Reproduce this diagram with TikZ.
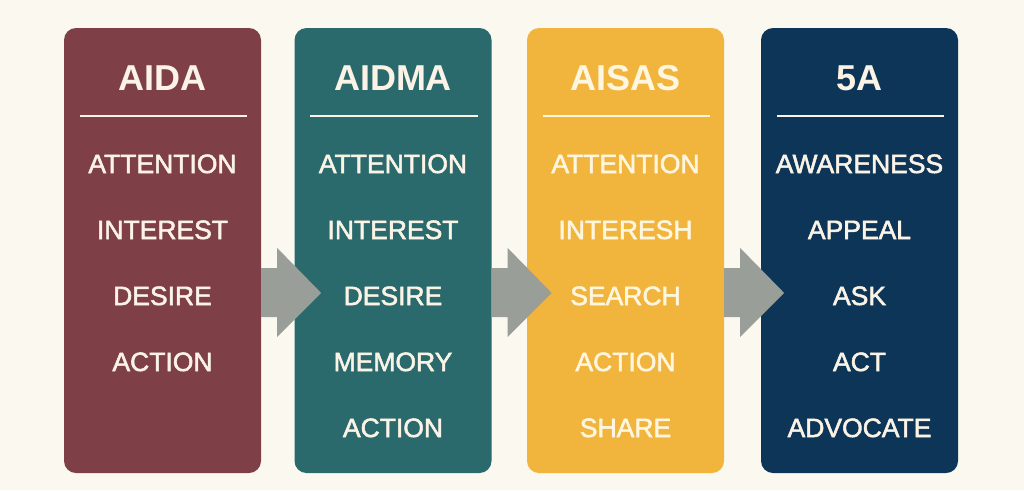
\documentclass[tikz,border=0pt]{standalone}
\usepackage{fontspec}
\setmainfont{Liberation Sans}
\newfontfamily\stagefont[FakeBold=2]{Liberation Sans}
\usetikzlibrary{calc}
\definecolor{bgcream}{HTML}{FBF8F0}
\definecolor{aidared}{HTML}{7E3F46}
\definecolor{aidmateal}{HTML}{2A6A6C}
\definecolor{aisasgold}{HTML}{F1B43D}
\definecolor{fivenavy}{HTML}{0D3557}
\definecolor{arrowgray}{HTML}{9A9E98}
\definecolor{labelcream}{HTML}{FAF3E6}
\definecolor{labellight}{HTML}{FFF6DF}
\tikzset{
panel/.style={rounded corners=12pt, minimum width=197pt, minimum height=445pt, inner sep=0pt},
paneltitle/.style={anchor=base, inner sep=0pt, font=\fontsize{36}{36}\selectfont\bfseries},
stage/.style={anchor=base, inner sep=0pt, font=\stagefont\fontsize{26.5}{27}\selectfont},
flowarrow/.style={fill=arrowgray},
}

\begin{document}
\begin{tikzpicture}[x=1pt, y=-1pt]
\fill[bgcream] (0,0) rectangle (1024,490);
\useasboundingbox (0,0) rectangle (1024,490);
\foreach \name/\x/\col/\txt/\head/\list in {
p1/162.5/aidared/labelcream/AIDA/{ATTENTION,INTEREST,DESIRE,ACTION},
p2/393/aidmateal/labelcream/AIDMA/{ATTENTION,INTEREST,DESIRE,MEMORY,ACTION},
p3/625.5/aisasgold/labellight/AISAS/{ATTENTION,INTERESH,SEARCH,ACTION,SHARE},
p4/859.5/fivenavy/labelcream/5A/{AWARENESS,APPEAL,ASK,ACT,ADVOCATE}} {
\node[panel, fill=\col] (\name) at (\x,250.5) {};
\node[paneltitle, text=\txt] (\name-head) at (\x,90) {\head};
\draw[\txt, line width=1.3pt] ($(\name.west)+(16,-134.5)$) -- ($(\name.east)+(-14,-134.5)$);
\foreach \word [count=\i] in \list
\node[stage, text=\txt] (\name-\i) at (\x,107+66*\i) {\word};
}
\foreach \a in {p1,p2,p3}
\fill[flowarrow] ($(\a.east)+(0,17.5)$) -- ++(16,0) -- ++(0,-20) -- ++(44,45)
-- ++(-44,44) -- ++(0,-20) -- ++(-16,0) -- cycle;
\end{tikzpicture}
\end{document}
